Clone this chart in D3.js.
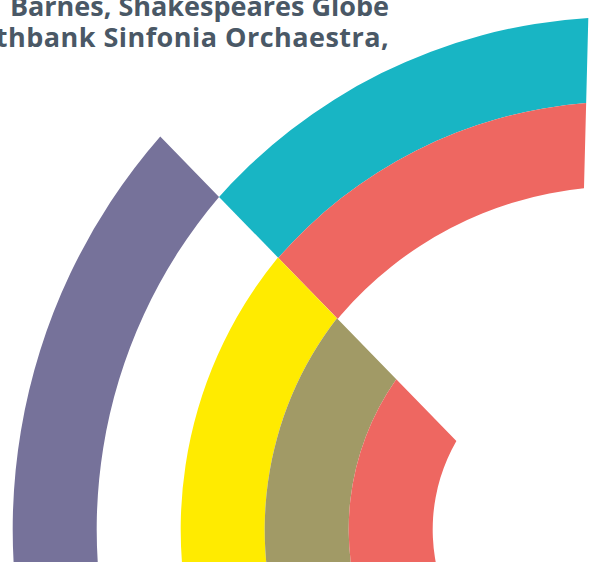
<!DOCTYPE html>
<html><head><meta charset="utf-8">
<script src="https://cdn.jsdelivr.net/npm/d3@7"></script>
<style>html,body{margin:0;padding:0;background:#fff;overflow:hidden}</style>
</head><body><svg id="chart" width="589" height="562"></svg>
<script>
// ---- data ----
const titleLines = ["Barnes, Shakespeares Globe", "Southbank Sinfonia Orchaestra,"];

// outer ring set (five tracks, track 1 empty)
const outerTrackCount = 5;
const outerSegTrack = [0, 2, 3, 4];
const outerSegColor = ["#76729a", "#ffeb00", "#a19a66", "#ee6761"];
const outerSegStart = [-180, -180, -180, -180];   // degrees
const outerSegEnd   = [-44.2, -44.2, -44.2, -44.2];

// inner ring set (two tracks)
const innerTrackCount = 2;
const innerSegTrack = [0, 1];
const innerSegColor = ["#18b5c4", "#ee6761"];
const innerSegStart = [-100, -100];
const innerSegEnd   = [1.45, 1.45];

// ---- layout ----
const svg = d3.select("#chart");
const angle = d3.scaleLinear().domain([-180, 180]).range([-Math.PI, Math.PI]);

const outerC = [610, 529.5], innerC = [621, 556];
const outerR = d3.scaleLinear().domain([0, outerTrackCount]).range([597.3, 177.3]);
const innerR = d3.scaleLinear().domain([0, innerTrackCount]).range([539, 369.5]);
const outerPad = 48.4, innerPad = 46.3, padA = 0.2;

function arcGen(r, pad) {
  return d3.arc()
    .innerRadius(d => r(d.track + 1))
    .outerRadius(d => r(d.track))
    .startAngle(d => angle(d.start))
    .endAngle(d => angle(d.end))
    .padAngle(padA)
    .padRadius(pad / Math.sin(padA / 2));
}

const outerData = outerSegTrack.map((t, i) => ({track: t, color: outerSegColor[i], start: outerSegStart[i], end: outerSegEnd[i]}));
const innerData = innerSegTrack.map((t, i) => ({track: t, color: innerSegColor[i], start: innerSegStart[i], end: innerSegEnd[i]}));

// clip: inner set only visible clockwise of the outer set's cut edge
const cutA = angle(outerSegEnd[0]);
const clipCx = outerC[0] - outerPad * Math.cos(cutA);
const clipCy = outerC[1] - outerPad * Math.sin(cutA);
svg.append("defs").append("clipPath").attr("id", "cut")
  .append("path")
  .attr("transform", `translate(${clipCx},${clipCy})`)
  .attr("d", d3.arc()({innerRadius: 0, outerRadius: 3000, startAngle: cutA, endAngle: cutA + Math.PI}));

const gi = svg.append("g").attr("clip-path", "url(#cut)")
  .append("g").attr("transform", `translate(${innerC})`);
gi.selectAll("path").data(innerData).join("path")
  .attr("d", arcGen(innerR, innerPad)).attr("fill", d => d.color);

const go = svg.append("g").attr("transform", `translate(${outerC})`);
go.selectAll("path").data(outerData).join("path")
  .attr("d", arcGen(outerR, outerPad)).attr("fill", d => d.color);

// title text
const titleX = [389, -55], titleAnchor = ["end", "start"], titleSpacing = [0, 0.47];
svg.append("g").selectAll("text").data(titleLines).join("text")
  .attr("x", (d, i) => titleX[i]).attr("y", (d, i) => 16 + i * 31)
  .attr("text-anchor", (d, i) => titleAnchor[i])
  .attr("letter-spacing", (d, i) => titleSpacing[i])
  .attr("font-family", "'Open Sans', sans-serif")
  .attr("font-weight", 700)
  .attr("font-size", 27)
  .attr("fill", "#4a5866")
  .text(d => d);
</script></body></html>
